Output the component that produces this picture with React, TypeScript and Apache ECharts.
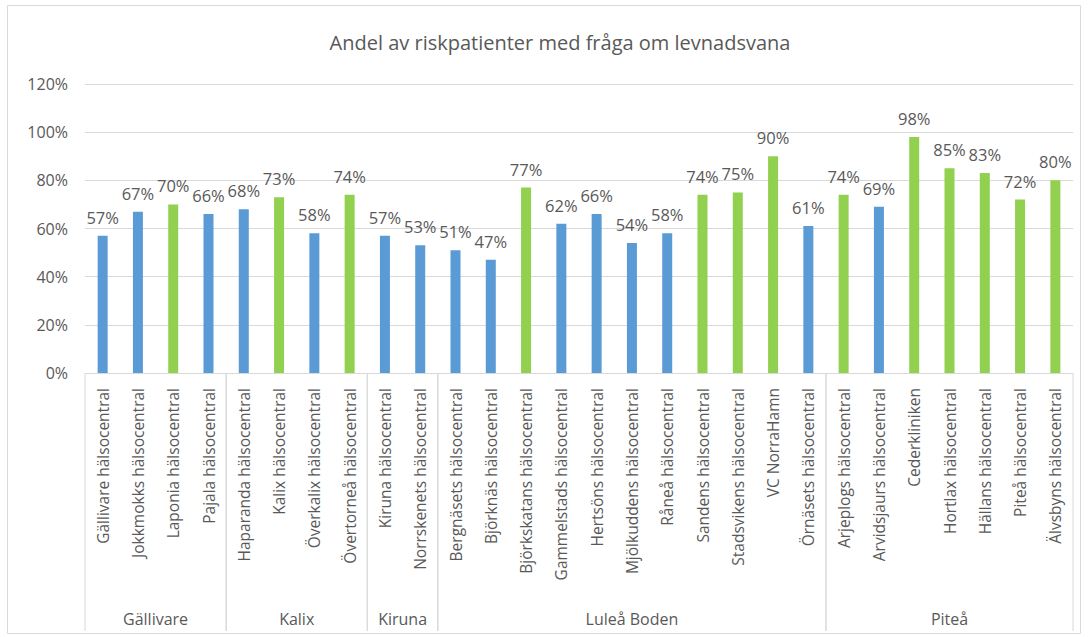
import React, { useEffect, useRef } from "react";
import * as echarts from "echarts";

const title = "Andel av riskpatienter med fråga om levnadsvana";

const categories = [
  "Gällivare hälsocentral",
  "Jokkmokks hälsocentral",
  "Laponia hälsocentral",
  "Pajala hälsocentral",
  "Haparanda hälsocentral",
  "Kalix hälsocentral",
  "Överkalix hälsocentral",
  "Övertorneå hälsocentral",
  "Kiruna hälsocentral",
  "Norrskenets hälsocentral",
  "Bergnäsets hälsocentral",
  "Björknäs hälsocentral",
  "Björkskatans hälsocentral",
  "Gammelstads hälsocentral",
  "Hertsöns hälsocentral",
  "Mjölkuddens hälsocentral",
  "Råneå hälsocentral",
  "Sandens hälsocentral",
  "Stadsvikens hälsocentral",
  "VC NorraHamn",
  "Örnäsets hälsocentral",
  "Arjeplogs hälsocentral",
  "Arvidsjaurs hälsocentral",
  "Cederkliniken",
  "Hortlax hälsocentral",
  "Hällans hälsocentral",
  "Piteå hälsocentral",
  "Älvsbyns hälsocentral",
];

const values = [
  57, 67, 70, 66,
  68, 73, 58, 74,
  57, 53,
  51, 47, 77, 62, 66, 54, 58, 74, 75, 90, 61,
  74, 69, 98, 85, 83, 72, 80,
];

const groupNames = ["Gällivare", "Kalix", "Kiruna", "Luleå Boden", "Piteå"];
const groupSizes = [4, 4, 2, 11, 7];

const yTicks = [0, 20, 40, 60, 80, 100, 120];
const threshold = 70;

const BLUE = "#5B9BD5";
const GREEN = "#92D050";
const TEXT = "#595959";
const FONT = "'Open Sans', 'Noto Sans', sans-serif";

export default function App() {
  const ref = useRef<HTMLDivElement>(null);

  useEffect(() => {
    if (!ref.current) return;
    const chart = echarts.init(ref.current, undefined, { renderer: "svg" });

    const groupData: number[][] = [];
    let start = 0;
    groupSizes.forEach((n) => {
      groupData.push([start, start + n - 1]);
      start += n;
    });

    chart.setOption({
      animation: false,
      backgroundColor: "#ffffff",
      textStyle: { fontFamily: FONT },
      graphic: [
        {
          type: "rect",
          shape: { x: 7.5, y: 5.5, width: 1073, height: 628 },
          style: { fill: "none", stroke: "#d9d9d9", lineWidth: 1 },
          silent: true,
        },
      ],
      title: {
        text: title,
        left: 555,
        textAlign: "center",
        top: 27,
        textStyle: { color: TEXT, fontSize: 20, fontWeight: "normal", fontFamily: FONT },
      },
      grid: { left: 85, right: 15, top: 84, bottom: 264, containLabel: false },
      xAxis: {
        type: "category",
        data: categories,
        axisLine: { show: false },
        axisTick: { show: false },
        axisLabel: {
          rotate: 90,
          interval: 0,
          margin: 15,
          color: TEXT,
          fontSize: 15.5,
          fontFamily: FONT,
        },
      },
      yAxis: {
        type: "value",
        min: yTicks[0],
        max: yTicks[yTicks.length - 1],
        interval: 20,
        axisLine: { show: false },
        axisTick: { show: false },
        axisLabel: {
          formatter: "{value}%",
          color: TEXT,
          fontSize: 16,
          margin: 17,
          fontFamily: FONT,
        },
        splitLine: { lineStyle: { color: "#d9d9d9", width: 1 } },
      },
      series: [
        {
          type: "bar",
          data: values.map((v) => ({
            value: v,
            itemStyle: { color: v >= threshold ? GREEN : BLUE },
          })),
          barWidth: 10,
          label: {
            show: true,
            position: "top",
            formatter: "{c}%",
            color: TEXT,
            fontSize: 16.5,
            distance: 10,
            fontFamily: FONT,
          },
        },
        {
          type: "custom",
          clip: false,
          silent: true,
          data: groupData,
          encode: { x: [0, 1], y: -1 },
          renderItem: (params: any, api: any) => {
            const s = api.value(0);
            const e = api.value(1);
            const p0 = api.coord([s, 0]);
            const p1 = api.coord([e, 0]);
            const bw = api.size([1, 0])[0];
            const left = p0[0] - bw / 2;
            const right = p1[0] + bw / 2;
            const y0 = p0[1];
            const name = groupNames[params.dataIndex];
            const lineStyle = { stroke: "#d9d9d9", lineWidth: 1 };
            return {
              type: "group",
              children: [
                {
                  type: "line",
                  shape: { x1: left, y1: y0, x2: left, y2: y0 + 258 },
                  style: lineStyle,
                },
                {
                  type: "line",
                  shape: { x1: right, y1: y0, x2: right, y2: y0 + 258 },
                  style: lineStyle,
                },
                {
                  type: "text",
                  style: {
                    text: name,
                    x: (left + right) / 2,
                    y: y0 + 246,
                    align: "center",
                    verticalAlign: "middle",
                    fill: TEXT,
                    fontSize: 16,
                    fontFamily: FONT,
                  },
                },
              ],
            };
          },
        },
      ],
    });

    return () => chart.dispose();
  }, []);

  return (
    <div
      ref={ref}
      style={{ position: "absolute", left: 0, top: 0, width: 1088, height: 637 }}
    />
  );
}
